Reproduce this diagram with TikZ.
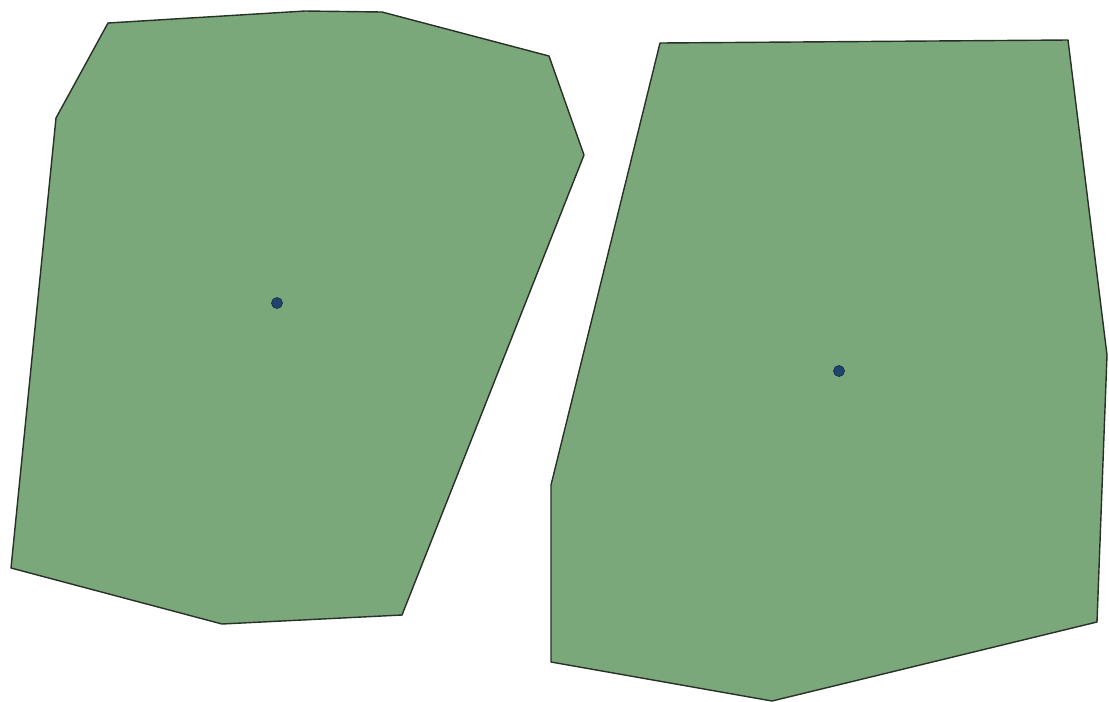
\documentclass[tikz,border=0pt]{standalone}
\definecolor{parcelgreen}{RGB}{122,168,122}
\definecolor{edgegrey}{RGB}{40,48,40}
\definecolor{pointblue}{RGB}{32,68,110}
\begin{document}
\begin{tikzpicture}[x = 0.02cm, y = -0.02cm,
	parcel/.style = {fill = parcelgreen, draw = edgegrey, line width = 0.8pt, line join = round},
	centroid/.style = {fill = pointblue, draw = pointblue!70!black, line width = 0.4pt}]
\useasboundingbox (0,0) rectangle (1109,701);

% left parcel
\draw[parcel] (108,23) -- (305,11) -- (382,12) -- (549,56) -- (584,155) -- (402,615)
	-- (222,624) -- (11,568) -- (56,118) -- cycle;
\filldraw[centroid] (277,303) circle (5.5);

% right parcel
\draw[parcel] (660,43) -- (1068,40) -- (1107,355) -- (1097,622) -- (772,701)
	-- (551,662) -- (551,485) -- cycle;
\filldraw[centroid] (839,371) circle (5.5);
\end{tikzpicture}
\end{document}
